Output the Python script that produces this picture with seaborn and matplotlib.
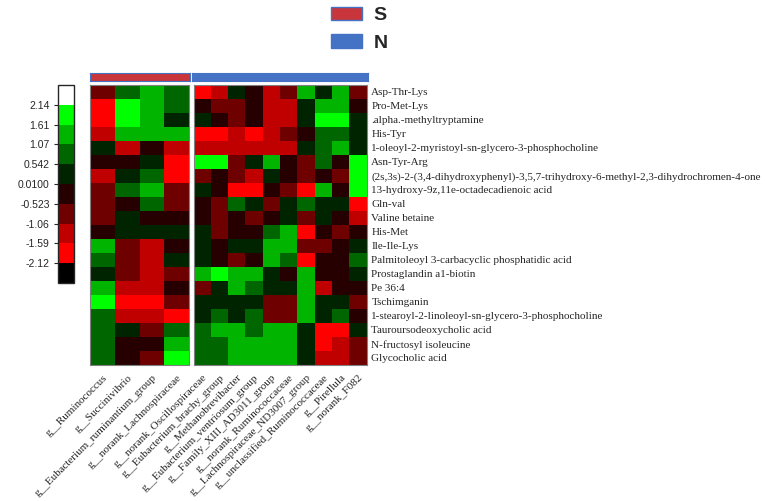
import matplotlib
matplotlib.use("Agg")
import matplotlib.pyplot as plt
from matplotlib.colors import ListedColormap, BoundaryNorm
from matplotlib.patches import Patch
import pandas as pd
import seaborn as sns

metabolites = [
    "Asp-Thr-Lys", "Pro-Met-Lys", ".alpha.-methyltryptamine", "His-Tyr",
    "1-oleoyl-2-myristoyl-sn-glycero-3-phosphocholine", "Asn-Tyr-Arg",
    "(2s,3s)-2-(3,4-dihydroxyphenyl)-3,5,7-trihydroxy-6-methyl-2,3-dihydrochromen-4-one",
    "13-hydroxy-9z,11e-octadecadienoic acid", "Gln-val", "Valine betaine", "His-Met",
    "Ile-Ile-Lys", "Palmitoleoyl 3-carbacyclic phosphatidic acid", "Prostaglandin a1-biotin",
    "Pe 36:4", "Tschimganin", "1-stearoyl-2-linoleoyl-sn-glycero-3-phosphocholine",
    "Tauroursodeoxycholic acid", "N-fructosyl isoleucine", "Glycocholic acid",
]

s_genera = ["g__Ruminococcus", "g__Succinivibrio", "g__Eubacterium_ruminantium_group",
            "g__norank_Lachnospiraceae"]
n_genera = ["g__norank_Oscillospiraceae", "g__Eubacterium_brachy_group", "g__Methanobrevibacter",
            "g__Eubacterium_ventriosum_group", "g__Family_XIII_AD3011_group",
            "g__norank_Ruminococcaceae", "g__Lachnospiraceae_ND3007_group",
            "g__unclassified_Ruminococcaceae", "g__Pirellula", "g__norank_F082"]

# correlation values (estimated from the colour bins)
s_values = [
    [-0.8, 0.8, 1.35, 0.8],
    [-1.85, 1.9, 1.35, 0.8],
    [-1.85, 1.9, 1.35, 0.28],
    [-1.3, 1.35, 1.35, 1.35],
    [0.28, -1.3, -0.25, -1.3],
    [-0.25, -0.25, 0.28, -1.85],
    [-1.3, 0.28, 0.8, -1.85],
    [-0.8, 0.8, 1.35, -0.8],
    [-0.8, -0.25, 0.8, -0.8],
    [-0.8, 0.28, -0.25, -0.25],
    [-0.25, 0.28, 0.28, 0.28],
    [1.35, -0.8, -1.3, -0.25],
    [0.8, -0.8, -1.3, 0.28],
    [0.28, -0.8, -1.3, -0.8],
    [1.35, -1.3, -1.3, -0.25],
    [1.9, -1.85, -1.85, -0.8],
    [0.8, -1.3, -1.3, -1.85],
    [0.8, 0.28, -0.8, 0.8],
    [0.8, -0.25, -0.25, 1.35],
    [0.8, -0.25, -0.8, 1.9],
]

n_values = [
    [-1.85, -1.3, 0.28, -0.25, -1.3, -0.8, 1.35, 0.28, 1.35, -0.8],
    [-0.25, -0.8, -0.8, -0.25, -1.3, -1.3, 0.28, 1.35, 1.35, -0.25],
    [0.28, -0.25, -0.8, -0.25, -1.3, -1.3, 0.28, 1.9, 1.9, 0.28],
    [-1.85, -1.85, -1.3, -1.85, -1.3, -0.8, -0.25, 0.8, 0.8, 0.28],
    [-1.3, -1.3, -1.3, -1.3, -1.3, -1.3, 0.28, 0.8, 1.35, 0.28],
    [1.9, 1.9, -0.8, 0.28, 1.35, -0.25, -0.8, 0.8, -0.25, 1.9],
    [-0.8, -0.25, -0.8, -1.3, 0.28, -0.25, -0.8, -0.25, -0.8, 1.9],
    [0.28, -0.25, -1.85, -1.85, -0.25, -0.8, -1.85, 1.35, -0.25, 1.9],
    [-0.25, -0.8, 0.8, 0.28, -0.8, 0.28, 0.8, 0.28, 0.28, -1.85],
    [-0.25, -0.8, -0.25, -0.8, -0.25, 0.28, -0.8, 0.28, -0.25, -1.3],
    [0.28, -0.8, -0.25, -0.25, 0.8, 1.35, -1.85, -0.25, -0.8, -0.25],
    [0.28, -0.25, 0.28, 0.28, 1.35, 1.35, -0.8, -0.8, -0.25, 0.28],
    [0.28, -0.25, -0.8, -0.25, 1.35, 0.8, -1.85, -0.25, -0.25, 0.8],
    [1.35, 1.9, 1.35, 1.35, 0.28, -0.25, 1.35, -0.25, -0.25, 0.28],
    [-0.8, 0.28, 1.35, 0.8, 0.28, 0.28, 1.35, -1.3, -0.25, -0.25],
    [0.28, 0.28, 0.28, 0.28, -0.8, -0.8, 1.35, 0.28, 0.28, -0.8],
    [0.28, 0.8, 0.28, 0.8, -0.8, -0.8, 1.35, 0.28, 0.8, -0.25],
    [0.8, 1.35, 1.35, 0.8, 1.35, 1.35, 0.28, -1.85, -1.85, 0.28],
    [0.8, 0.8, 1.35, 1.35, 1.35, 1.35, 0.28, -1.85, -1.3, -0.8],
    [0.8, 0.8, 1.35, 1.35, 1.35, 1.35, 0.28, -1.3, -1.3, -0.8],
]

groups = ["S", "N"]
group_colors = ["#C8363C", "#4472C4"]

level_bounds = [-2.65, -2.12, -1.59, -1.06, -0.523, 0.0100, 0.542, 1.07, 1.61, 2.14, 2.67]
level_ticks = [-2.12, -1.59, -1.06, -0.523, 0.0100, 0.542, 1.07, 1.61, 2.14]
level_labels = ["-2.12", "-1.59", "-1.06", "-0.523", "0.0100", "0.542", "1.07", "1.61", "2.14"]
level_colors = ["#000000", "#FF0000", "#C00000", "#6E0000", "#260000",
                "#002400", "#006600", "#00B400", "#00FF00", "#FFFFFF"]

sns.set_style("white")
plt.rcParams["font.family"] = ["Liberation Serif", "DejaVu Serif"]

W, H = 765, 501
fig = plt.figure(figsize=(W / 100, H / 100), dpi=100)


def box(x0, y0, x1, y1):
    # pixel box (top-left origin) -> figure fraction rect
    return [x0 / W, 1 - y1 / H, (x1 - x0) / W, (y1 - y0) / H]


cmap = ListedColormap(level_colors)
norm = BoundaryNorm(level_bounds, cmap.N)

ax_s = fig.add_axes(box(90, 84.7, 189, 364.7))
ax_n = fig.add_axes(box(193.5, 84.7, 366.5, 364.7))

df_s = pd.DataFrame(s_values, index=metabolites, columns=s_genera)
df_n = pd.DataFrame(n_values, index=metabolites, columns=n_genera)

sns.heatmap(df_s, ax=ax_s, cmap=cmap, norm=norm, cbar=False, yticklabels=False)
sns.heatmap(df_n, ax=ax_n, cmap=cmap, norm=norm, cbar=False, yticklabels=True)

ax_n.yaxis.tick_right()
ax_n.set_yticklabels(metabolites, rotation=0, fontsize=8)

for ax in (ax_s, ax_n):
    ax.set_xticklabels(ax.get_xticklabels(), rotation=45, ha="right",
                       rotation_mode="anchor", fontsize=8)
    ax.tick_params(axis="x", length=0, pad=6)
    ax.tick_params(axis="y", length=0, pad=3.5)
    ax.set_xlabel("")
    ax.set_ylabel("")
    for sp in ax.spines.values():
        sp.set_visible(True)
        sp.set_color("#808080")
        sp.set_linewidth(0.8)

# group bars above the two blocks
for i, (rect, n) in enumerate([((90, 73.3, 190, 80.7), len(s_genera)),
                               ((191.5, 73.3, 368, 80.7), len(n_genera))]):
    gax = fig.add_axes(box(*rect))
    sns.heatmap([[i] * n], ax=gax, cmap=ListedColormap(group_colors), vmin=0, vmax=1,
                cbar=False, xticklabels=False, yticklabels=False)
    for sp in gax.spines.values():
        sp.set_visible(True)
        sp.set_color("#4472C4")
        sp.set_linewidth(0.8)

# colour bar
cax = fig.add_axes(box(58, 85, 74, 283))
cb = fig.colorbar(ax_s.collections[0], cax=cax, ticks=level_ticks, spacing="uniform")
cb.set_ticklabels(level_labels)
cax.minorticks_off()
cax.yaxis.set_ticks_position("left")
cax.tick_params(length=3, width=0.8, pad=3, labelsize=7.5)
for lab in cax.get_yticklabels():
    lab.set_family("Liberation Sans")
cb.outline.set_linewidth(1.0)

# group legend
handles = [Patch(facecolor=c, edgecolor="#4472C4", linewidth=1) for c in group_colors]
fig.legend(handles=handles, labels=groups, loc="upper left",
           bbox_to_anchor=(323 / W, 1 + 1 / H), frameon=False, borderaxespad=0,
           prop={"family": "Liberation Sans", "weight": "bold", "size": 14},
           handlelength=1.6, handleheight=0.7, handletextpad=0.6, labelspacing=0.5)

fig.savefig("out.png", dpi=100)
